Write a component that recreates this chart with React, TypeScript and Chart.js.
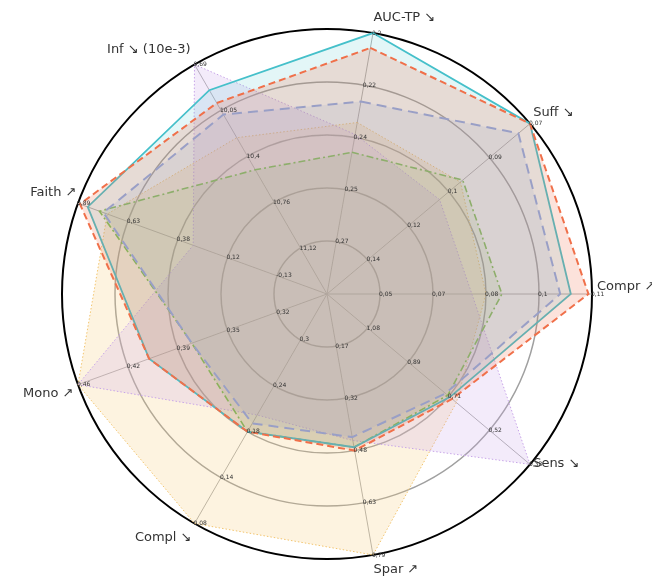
import React, { useEffect, useRef } from 'react';
import { Chart, registerables } from 'chart.js';

Chart.register(...registerables);

// Axes (clockwise from the top)
const axisLabels = ['AUC-TP ↘', 'Suff ↘', 'Compr ↗', 'Sens ↘', 'Spar ↗', 'Compl ↘', 'Mono ↗', 'Faith ↗', 'Inf ↘ (10e-3)'];
// value at the innermost ring and at the outer ring of every axis
const axisInner = [0.27, 0.14, 0.05, 1.08, 0.17, 0.30, 0.32, -0.13, 11.12];
const axisOuter = [0.20, 0.07, 0.11, 0.33, 0.79, 0.08, 0.46, 0.89, 9.69];
// tick labels, ring 1 .. ring 5
const tickLabels = [
  ['0,27', '0,25', '0,24', '0,22', '0,2'],
  ['0,14', '0,12', '0,1', '0,09', '0,07'],
  ['0,05', '0,07', '0,08', '0,1', '0,11'],
  ['1,08', '0,89', '0,71', '0,52', '0,33'],
  ['0,17', '0,32', '0,48', '0,63', '0,79'],
  ['0,3', '0,24', '0,18', '0,14', '0,08'],
  ['0,32', '0,35', '0,39', '0,42', '0,46'],
  ['-0,13', '0,12', '0,38', '0,63', '0,89'],
  ['11,12', '10,76', '10,4', '10,05', '9,69'],
];

// series values, raw units of each axis
const seriesTeal = [0.200, 0.070, 0.104, 0.70, 0.47, 0.19, 0.41, 0.84, 9.89];
const seriesOrange = [0.205, 0.070, 0.109, 0.69, 0.48, 0.19, 0.41, 0.88, 9.99];
const seriesBlue = [0.223, 0.075, 0.101, 0.72, 0.44, 0.20, 0.38, 0.76, 10.08];
const seriesGreen = [0.240, 0.099, 0.0845, 0.71, 0.47, 0.19, 0.38, 0.78, 10.51];
const seriesPurple = [0.234, 0.109, 0.076, 0.33, 0.45, 0.21, 0.46, 0.30, 9.69];
const seriesYellow = [0.230, 0.100, 0.080, 0.67, 0.79, 0.08, 0.46, 0.74, 10.26];

const toLevel = (vals: number[]) =>
  vals.map((v, i) => 1 + (4 * (v - axisInner[i])) / (axisOuter[i] - axisInner[i]));

// label placement styles
const labelOffsets: [number, number, CanvasTextAlign][] = [
  [-1, -8, 'left'],
  [-3, -6, 'left'],
  [-3, -7, 'left'],
  [-3, -6, 'left'],
  [-1, 7, 'left'],
  [1, 7, 'right'],
  [3, 6, 'right'],
  [6, -8, 'right'],
  [0, -8, 'right'],
];

const geometryPlugin = {
  id: 'geometry',
  afterLayout(chart: any) {
    const s = chart.scales.r;
    s.xCenter = 327;
    s.yCenter = 294;
    s.drawingArea = 265;
  },
};

const labelsPlugin = {
  id: 'axisText',
  afterDraw(chart: any) {
    const s = chart.scales.r;
    const ctx = chart.ctx;
    ctx.save();
    ctx.font = '6px "DejaVu Sans"';
    ctx.fillStyle = '#333';
    ctx.textAlign = 'left';
    ctx.textBaseline = 'middle';
    for (let i = 0; i < axisLabels.length; i++) {
      for (let k = 0; k < 5; k++) {
        const p = s.getPointPositionForValue(i, k + 1);
        ctx.fillText(tickLabels[i][k], p.x - 1, p.y);
      }
    }
    ctx.font = '13px "DejaVu Sans"';
    ctx.fillStyle = '#333';
    for (let i = 0; i < axisLabels.length; i++) {
      const p = s.getPointPosition(i, s.drawingArea + 8);
      const [dx, dy, align] = labelOffsets[i];
      ctx.textAlign = align;
      ctx.fillText(axisLabels[i], p.x + dx, p.y + dy);
    }
    ctx.restore();
  },
};

export default function App() {
  const ref = useRef<HTMLCanvasElement>(null);
  useEffect(() => {
    const chart = new Chart(ref.current as HTMLCanvasElement, {
      type: 'radar',
      data: {
        labels: axisLabels,
        datasets: [
          {
            label: 'B', data: toLevel(seriesOrange), borderColor: '#f0704a', backgroundColor: 'rgba(240,112,74,0.2)',
            borderWidth: 2, borderDash: [7, 4], fill: true, pointRadius: 0,
          },
          {
            label: 'A', data: toLevel(seriesTeal), borderColor: '#45c0ca', backgroundColor: 'rgba(69,192,202,0.15)',
            borderWidth: 1.8, fill: true, pointRadius: 0,
          },
          {
            label: 'C', data: toLevel(seriesBlue), borderColor: '#90a8ea', backgroundColor: 'rgba(144,168,234,0.15)',
            borderWidth: 2, borderDash: [10, 6], fill: true, pointRadius: 0,
          },
          {
            label: 'D', data: toLevel(seriesGreen), borderColor: '#7cc24e', backgroundColor: 'rgba(124,194,78,0.13)',
            borderWidth: 1.6, borderDash: [7, 3, 2, 3], fill: true, pointRadius: 0,
          },
          {
            label: 'E', data: toLevel(seriesPurple), borderColor: '#c7a4e8', backgroundColor: 'rgba(199,164,232,0.22)',
            borderWidth: 1, borderDash: [1.5, 2], fill: true, pointRadius: 0,
          },
          {
            label: 'F', data: toLevel(seriesYellow), borderColor: '#f2c46e', backgroundColor: 'rgba(245,200,112,0.22)',
            borderWidth: 1, borderDash: [1.5, 2], fill: true, pointRadius: 0,
          },
        ],
      },
      options: {
        responsive: false,
        animation: false,
        devicePixelRatio: 1,
        elements: { line: { tension: 0 } },
        plugins: { legend: { display: false }, tooltip: { enabled: false } },
        scales: {
          r: {
            min: 0,
            max: 5,
            startAngle: 10,
            ticks: { display: false, stepSize: 1 },
            pointLabels: { display: false },
            grid: {
              circular: true,
              color: (c: any) => (c.index === 5 ? '#000' : '#a0a0a0'),
              lineWidth: (c: any) => (c.index === 5 ? 2 : 1.5),
            },
            angleLines: { color: '#b0b0b0', lineWidth: 1 },
          },
        },
      },
      plugins: [geometryPlugin, labelsPlugin],
    } as any);
    return () => chart.destroy();
  }, []);
  return (
    <div style={{ position: 'fixed', left: 0, top: 0, width: 652, height: 579, background: '#fff' }}>
      <canvas ref={ref} width={652} height={579} style={{ width: 652, height: 579, display: 'block' }} />
    </div>
  );
}
